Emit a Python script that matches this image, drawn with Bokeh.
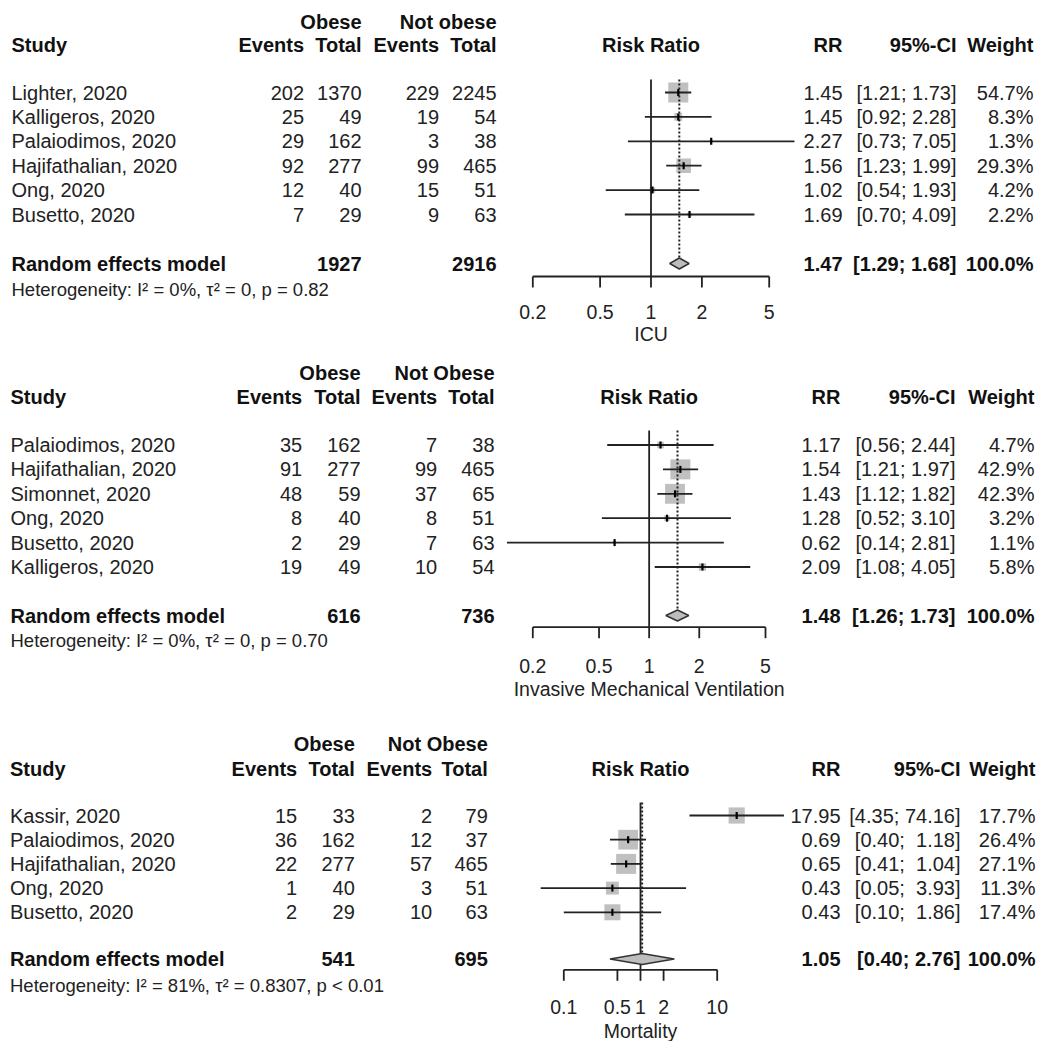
import numpy as np
from bokeh.plotting import figure
from bokeh.models import Range1d, LogScale, ColumnDataSource
from bokeh.embed import file_html
from bokeh.resources import INLINE
from bokeh.core.properties import value

# ---------------- data ----------------
# Panel 1: ICU
studies1 = ["Lighter, 2020", "Kalligeros, 2020", "Palaiodimos, 2020",
            "Hajifathalian, 2020", "Ong, 2020", "Busetto, 2020"]
ev_ob1 = [202, 25, 29, 92, 12, 7]
tot_ob1 = [1370, 49, 162, 277, 40, 29]
ev_no1 = [229, 19, 3, 99, 15, 9]
tot_no1 = [2245, 54, 38, 465, 51, 63]
rr1 = [1.45, 1.45, 2.27, 1.56, 1.02, 1.69]
lo1 = [1.21, 0.92, 0.73, 1.23, 0.54, 0.70]
hi1 = [1.73, 2.28, 7.05, 1.99, 1.93, 4.09]
w1 = [54.7, 8.3, 1.3, 29.3, 4.2, 2.2]
summary1 = [1.47, 1.29, 1.68]
totals1 = [1927, 2916]
het1 = "Heterogeneity: I\u00b2 = 0%, \u03c4\u00b2 = 0, p = 0.82"
ticks1 = [0.2, 0.5, 1, 2, 5]
title1 = "ICU"
notob1 = "Not obese"

# Panel 2: Invasive Mechanical Ventilation
studies2 = ["Palaiodimos, 2020", "Hajifathalian, 2020", "Simonnet, 2020",
            "Ong, 2020", "Busetto, 2020", "Kalligeros, 2020"]
ev_ob2 = [35, 91, 48, 8, 2, 19]
tot_ob2 = [162, 277, 59, 40, 29, 49]
ev_no2 = [7, 99, 37, 8, 7, 10]
tot_no2 = [38, 465, 65, 51, 63, 54]
rr2 = [1.17, 1.54, 1.43, 1.28, 0.62, 2.09]
lo2 = [0.56, 1.21, 1.12, 0.52, 0.14, 1.08]
hi2 = [2.44, 1.97, 1.82, 3.10, 2.81, 4.05]
w2 = [4.7, 42.9, 42.3, 3.2, 1.1, 5.8]
summary2 = [1.48, 1.26, 1.73]
totals2 = [616, 736]
het2 = "Heterogeneity: I\u00b2 = 0%, \u03c4\u00b2 = 0, p = 0.70"
ticks2 = [0.2, 0.5, 1, 2, 5]
title2 = "Invasive Mechanical Ventilation"
notob2 = "Not Obese"

# Panel 3: Mortality
studies3 = ["Kassir, 2020", "Palaiodimos, 2020", "Hajifathalian, 2020",
            "Ong, 2020", "Busetto, 2020"]
ev_ob3 = [15, 36, 22, 1, 2]
tot_ob3 = [33, 162, 277, 40, 29]
ev_no3 = [2, 12, 57, 3, 10]
tot_no3 = [79, 37, 465, 51, 63]
rr3 = [17.95, 0.69, 0.65, 0.43, 0.43]
lo3 = [4.35, 0.40, 0.41, 0.05, 0.10]
hi3 = [74.16, 1.18, 1.04, 3.93, 1.86]
w3 = [17.7, 26.4, 27.1, 11.3, 17.4]
summary3 = [1.05, 0.40, 2.76]
totals3 = [541, 695]
het3 = "Heterogeneity: I\u00b2 = 81%, \u03c4\u00b2 = 0.8307, p < 0.01"
ticks3 = [0.1, 0.5, 1, 2, 10]
title3 = "Mortality"
notob3 = "Not Obese"
total_weight = 100.0

# ---------------- layout (page pixel positions) ----------------
W, H = 1043, 1041
FONT = value("Liberation Sans")
TXT = "#222222"
BLD = "#111111"

p = figure(width=W, height=H, output_backend="svg", toolbar_location=None,
           x_range=Range1d(0, W), y_range=Range1d(H, 0),
           x_axis_location=None, y_axis_location=None, min_border=0)
p.outline_line_color = None
p.grid.visible = False
p.background_fill_color = "white"


def txt(xs, ys, texts, align="left", size="20px", style="normal",
        color=TXT, rng="default"):
    src = ColumnDataSource(dict(x=list(xs), y=list(ys), t=list(texts)))
    p.text(x="x", y="y", text="t", source=src, text_align=align,
           text_baseline="middle", text_font=FONT, text_font_size=size,
           text_font_style=style, text_color=color, x_range_name=rng)


def pad(strs):
    n = max(len(s) for s in strs)
    return ["\u00a0" * (n - len(s)) + s for s in strs]


def panel(name, L, studies, ev_ob, tot_ob, ev_no, tot_no, rr, lo, hi, w,
          summary, totals, het, ticks, title, notob):
    # log scale for the forest column
    t0, t1 = min(ticks), max(ticks)
    b = (L["px_t1"] - L["px_t0"]) / (np.log10(t1) - np.log10(t0))
    start = 10 ** (np.log10(t0) - L["px_t0"] / b)
    end = 10 ** (np.log10(t1) + (W - L["px_t1"]) / b)
    p.extra_x_ranges[name] = Range1d(start, end)
    p.extra_x_scales[name] = LogScale()
    center = float(np.sqrt(t0 * t1))

    n = len(studies)
    rows = [L["y0"] + L["dy"] * i for i in range(n)]

    # headers
    txt([L["tot1"]], [L["y_obese"]], ["Obese"], "right", style="bold", color=BLD)
    txt([L["tot2"]], [L["y_obese"]], [notob], "right", style="bold", color=BLD)
    txt([L["study"]], [L["y_head"]], ["Study"], "left", style="bold", color=BLD)
    txt([L["ev1"], L["tot1"], L["ev2"], L["tot2"], L["rr"], L["ci"], L["w"]],
        [L["y_head"]] * 7,
        ["Events", "Total", "Events", "Total", "RR", "95%-CI", "Weight"],
        "right", style="bold", color=BLD)
    txt([center], [L["y_head"]], ["Risk Ratio"], "center", style="bold",
        color=BLD, rng=name)

    # study rows
    txt([L["study"]] * n, rows, studies, "left")
    txt([L["ev1"]] * n, rows, [str(v) for v in ev_ob], "right")
    txt([L["tot1"]] * n, rows, [str(v) for v in tot_ob], "right")
    txt([L["ev2"]] * n, rows, [str(v) for v in ev_no], "right")
    txt([L["tot2"]] * n, rows, [str(v) for v in tot_no], "right")
    txt([L["rr"]] * n, rows, [f"{v:.2f}" for v in rr], "right")
    los = pad([f"{v:.2f}" for v in lo])
    his = pad([f"{v:.2f}" for v in hi])
    txt([L["ci"]] * n, rows, [f"[{a}; {c}]" for a, c in zip(los, his)], "right")
    txt([L["w"]] * n, rows, [f"{v:.1f}%" for v in w], "right")

    # summary row
    ys = L["y_sum"]
    txt([L["study"]], [ys], ["Random effects model"], "left", style="bold", color=BLD)
    txt([L["tot1"], L["tot2"]], [ys, ys], [str(totals[0]), str(totals[1])],
        "right", style="bold", color=BLD)
    txt([L["rr"]], [ys], [f"{summary[0]:.2f}"], "right", style="bold", color=BLD)
    txt([L["ci"]], [ys], [f"[{summary[1]:.2f}; {summary[2]:.2f}]"], "right",
        style="bold", color=BLD)
    txt([L["w"]], [ys], [f"{total_weight:.1f}%"], "right", style="bold", color=BLD)
    txt([L["study"]], [L["y_het"]], [het], "left", size="18.5px")

    # squares (area proportional to weight)
    wmax = max(w)
    sizes = [20 * np.sqrt(v / wmax) for v in w]
    p.scatter(x=rr, y=rows, size=sizes, marker="square", fill_color="#c0c0c0",
              line_color=None, x_range_name=name)

    # reference line at 1 and dotted summary line
    hd = 5.5
    p.segment(x0=[1], y0=[L["top"]], x1=[1], y1=[L["axis_y"]],
              line_color="#222222", line_width=1.8, x_range_name=name)
    p.segment(x0=[summary[0]], y0=[L["top"]], x1=[summary[0]], y1=[ys - hd],
              line_color="#222222", line_width=2, line_dash="2 2",
              x_range_name=name)

    # CI lines and point estimates
    p.segment(x0=lo, y0=rows, x1=hi, y1=rows, line_color="#222222",
              line_width=1.8, x_range_name=name)
    p.scatter(x=rr, y=rows, marker="dash", angle=np.pi / 2, size=7,
              line_color="black", line_width=2.2, x_range_name=name)

    # diamond
    p.patch(x=[summary[1], summary[0], summary[2], summary[0]],
            y=[ys, ys - hd, ys, ys + hd], fill_color="#bdbdbd",
            line_color="#333333", line_width=1.5, x_range_name=name)

    # axis
    ay = L["axis_y"]
    p.segment(x0=[t0], y0=[ay], x1=[t1], y1=[ay], line_color="#222222",
              line_width=1.8, x_range_name=name)
    p.segment(x0=ticks, y0=[ay] * len(ticks), x1=ticks, y1=[ay + 11] * len(ticks),
              line_color="#222222", line_width=1.8, x_range_name=name)
    txt(ticks, [L["tick_y"]] * len(ticks), [f"{t:g}" for t in ticks], "center",
        size="19.5px", rng=name)
    txt([center], [L["title_y"]], [title], "center", size="19.5px", rng=name)


L1 = dict(study=11, ev1=303.5, tot1=361, ev2=438.5, tot2=496, rr=842, ci=956,
          w=1033, y_obese=21, y_head=44.5, y0=92, dy=24.4, y_sum=263,
          y_het=288.5, axis_y=276, tick_y=311.5, title_y=333, px_t0=532.3,
          px_t1=768.7, top=79)
L2 = dict(study=10, ev1=301.7, tot1=360, ev2=436.7, tot2=494, rr=840, ci=955,
          w=1034, y_obese=372.7, y_head=396, y0=444.5, dy=24.4, y_sum=615,
          y_het=640, axis_y=626.7, tick_y=665, title_y=688, px_t0=532.3,
          px_t1=765, top=430)
L3 = dict(study=9.5, ev1=296.7, tot1=354.3, ev2=431.7, tot2=487.3, rr=840,
          ci=960, w=1035, y_obese=743.3, y_head=768.5, y0=815, dy=24.2,
          y_sum=958.5, y_het=985, axis_y=969.3, tick_y=1006.7, title_y=1030,
          px_t0=563.3, px_t1=716.7, top=802)

panel("p1", L1, studies1, ev_ob1, tot_ob1, ev_no1, tot_no1, rr1, lo1, hi1, w1,
      summary1, totals1, het1, ticks1, title1, notob1)
panel("p2", L2, studies2, ev_ob2, tot_ob2, ev_no2, tot_no2, rr2, lo2, hi2, w2,
      summary2, totals2, het2, ticks2, title2, notob2)
panel("p3", L3, studies3, ev_ob3, tot_ob3, ev_no3, tot_no3, rr3, lo3, hi3, w3,
      summary3, totals3, het3, ticks3, title3, notob3)

open("out.html", "w").write(file_html(p, INLINE))
